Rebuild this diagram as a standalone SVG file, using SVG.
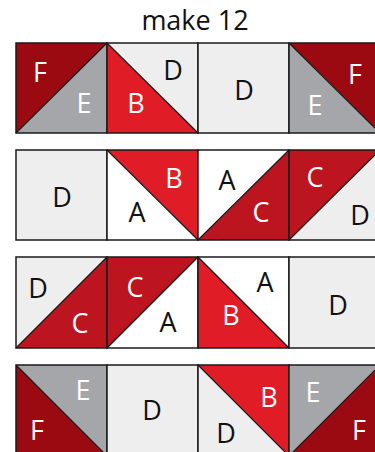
<svg xmlns="http://www.w3.org/2000/svg" width="375" height="452" viewBox="0 0 375 452">
<style>
.F{fill:#9a0a10}
.B{fill:#e01d26}
.C{fill:#bd1520}
.E{fill:#a5a6aa}
.D{fill:#eeeeee}
.A{fill:#ffffff}
.sq{fill:none;stroke:#1a1a1a;stroke-width:1.5}
.dg{stroke:#1a1a1a;stroke-width:1.2}
text{font-family:"Open Sans","Liberation Sans",sans-serif;font-size:27px;text-anchor:middle}
.w{fill:#ffffff}
.k{fill:#111111}
</style>
<rect width="375" height="452" fill="#ffffff"/>
<text x="195" y="30" class="k" style="font-size:27px">make 12</text>

<!-- Row 1 -->
<g id="r1c1">
<polygon class="F" points="16,43 107,43 16,133"/>
<polygon class="E" points="107,43 107,133 16,133"/>
<line class="dg" x1="16" y1="133" x2="107" y2="43"/>
<rect class="sq" x="16" y="43" width="91" height="90"/>
<text x="40" y="82" class="w">F</text>
<text x="84" y="113" class="w">E</text>
</g>
<g id="r1c2">
<polygon class="D" points="107,43 198,43 198,133"/>
<polygon class="B" points="107,43 198,133 107,133"/>
<line class="dg" x1="107" y1="43" x2="198" y2="133"/>
<rect class="sq" x="107" y="43" width="91" height="90"/>
<text x="173" y="80" class="k">D</text>
<text x="136" y="113" class="w">B</text>
</g>
<g id="r1c3">
<rect class="D" x="198" y="43" width="91" height="90"/>
<rect class="sq" x="198" y="43" width="91" height="90"/>
<text x="244" y="100" class="k">D</text>
</g>
<g id="r1c4">
<polygon class="F" points="289,43 380,43 380,133"/>
<polygon class="E" points="289,43 380,133 289,133"/>
<line class="dg" x1="289" y1="43" x2="380" y2="133"/>
<rect class="sq" x="289" y="43" width="91" height="90"/>
<text x="355" y="84" class="w">F</text>
<text x="315" y="115" class="w">E</text>
</g>

<!-- Row 2 -->
<g id="r2c1">
<rect class="D" x="16" y="150" width="91" height="90"/>
<rect class="sq" x="16" y="150" width="91" height="90"/>
<text x="62" y="207" class="k">D</text>
</g>
<g id="r2c2">
<polygon class="B" points="107,150 198,150 198,240"/>
<polygon class="A" points="107,150 198,240 107,240"/>
<line class="dg" x1="107" y1="150" x2="198" y2="240"/>
<rect class="sq" x="107" y="150" width="91" height="90"/>
<text x="174" y="188" class="w">B</text>
<text x="137" y="222" class="k">A</text>
</g>
<g id="r2c3">
<polygon class="A" points="198,150 289,150 198,240"/>
<polygon class="C" points="289,150 289,240 198,240"/>
<line class="dg" x1="198" y1="240" x2="289" y2="150"/>
<rect class="sq" x="198" y="150" width="91" height="90"/>
<text x="227" y="190" class="k">A</text>
<text x="261" y="222" class="w">C</text>
</g>
<g id="r2c4">
<polygon class="C" points="289,150 380,150 289,240"/>
<polygon class="D" points="380,150 380,240 289,240"/>
<line class="dg" x1="289" y1="240" x2="380" y2="150"/>
<rect class="sq" x="289" y="150" width="91" height="90"/>
<text x="315" y="187" class="w">C</text>
<text x="360" y="225" class="k">D</text>
</g>

<!-- Row 3 -->
<g id="r3c1">
<polygon class="D" points="16,257 107,257 16,348"/>
<polygon class="C" points="107,257 107,348 16,348"/>
<line class="dg" x1="16" y1="348" x2="107" y2="257"/>
<rect class="sq" x="16" y="257" width="91" height="91"/>
<text x="38" y="298" class="k">D</text>
<text x="80" y="333" class="w">C</text>
</g>
<g id="r3c2">
<polygon class="C" points="107,257 198,257 107,348"/>
<polygon class="A" points="198,257 198,348 107,348"/>
<line class="dg" x1="107" y1="348" x2="198" y2="257"/>
<rect class="sq" x="107" y="257" width="91" height="91"/>
<text x="135" y="297" class="w">C</text>
<text x="168" y="332" class="k">A</text>
</g>
<g id="r3c3">
<polygon class="A" points="198,257 289,257 289,348"/>
<polygon class="B" points="198,257 289,348 198,348"/>
<line class="dg" x1="198" y1="257" x2="289" y2="348"/>
<rect class="sq" x="198" y="257" width="91" height="91"/>
<text x="265" y="292" class="k">A</text>
<text x="231" y="325" class="w">B</text>
</g>
<g id="r3c4">
<rect class="D" x="289" y="257" width="91" height="91"/>
<rect class="sq" x="289" y="257" width="91" height="91"/>
<text x="338" y="315" class="k">D</text>
</g>

<!-- Row 4 -->
<g id="r4c1">
<polygon class="E" points="16,365 107,365 107,456"/>
<polygon class="F" points="16,365 107,456 16,456"/>
<line class="dg" x1="16" y1="365" x2="107" y2="456"/>
<rect class="sq" x="16" y="365" width="91" height="91"/>
<text x="83" y="400" class="w">E</text>
<text x="37" y="440" class="w">F</text>
</g>
<g id="r4c2">
<rect class="D" x="107" y="365" width="91" height="91"/>
<rect class="sq" x="107" y="365" width="91" height="91"/>
<text x="152" y="420" class="k">D</text>
</g>
<g id="r4c3">
<polygon class="B" points="198,365 289,365 289,456"/>
<polygon class="D" points="198,365 289,456 198,456"/>
<line class="dg" x1="198" y1="365" x2="289" y2="456"/>
<rect class="sq" x="198" y="365" width="91" height="91"/>
<text x="269" y="407" class="w">B</text>
<text x="226" y="443" class="k">D</text>
</g>
<g id="r4c4">
<polygon class="E" points="289,365 380,365 289,456"/>
<polygon class="F" points="380,365 380,456 289,456"/>
<line class="dg" x1="289" y1="456" x2="380" y2="365"/>
<rect class="sq" x="289" y="365" width="91" height="91"/>
<text x="313" y="402" class="w">E</text>
<text x="359" y="440" class="w">F</text>
</g>
</svg>
